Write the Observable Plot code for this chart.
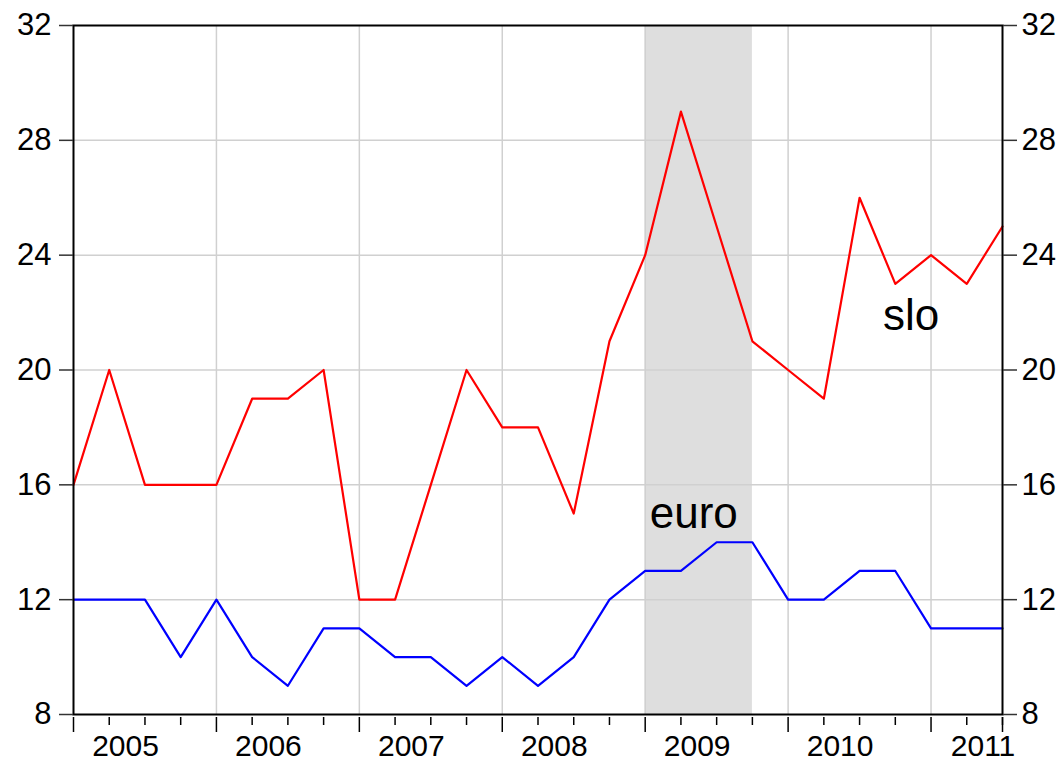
<!DOCTYPE html>
<html>
<head>
<meta charset="utf-8">
<script src="https://cdn.jsdelivr.net/npm/d3@7"></script>
<script src="https://cdn.jsdelivr.net/npm/@observablehq/plot@0.6"></script>
<style>
  html, body { margin: 0; padding: 0; background: white; }
</style>
</head>
<body>
<div id="chart"></div>
<script>
// Quarterly data, 2005Q1 .. 2011Q3
const startYear = 2005;
const slo  = [16, 20, 16, 16, 16, 19, 19, 20, 12, 12, 16, 20, 18, 18, 15, 21, 24, 29, 25, 21, 20, 19, 26, 23, 24, 23, 25];
const euro = [12, 12, 12, 10, 12, 10, 9, 11, 11, 10, 10, 9, 10, 9, 10, 12, 13, 13, 14, 14, 12, 12, 13, 13, 11, 11, 11];
const yearTicks = [2005, 2006, 2007, 2008, 2009, 2010, 2011];
const yTicks = [8, 12, 16, 20, 24, 28, 32];
const gridY = [12, 16, 20, 24, 28];
const gridX = [2006, 2007, 2008, 2009, 2010, 2011];
const recession = [{start: 2009.0, end: 2009.75}];
const labels = [
  {x: 2010.86, y: 21.38, text: "slo"},
  {x: 2009.34, y: 14.51, text: "euro"}
];

const t = (i) => startYear + i / 4;
const sloData = slo.map((v, i) => ({t: t(i), v}));
const euroData = euro.map((v, i) => ({t: t(i), v}));
const quarterTicks = slo.map((_, i) => t(i)).filter(q => !Number.isInteger(q));

const chart = Plot.plot({
  width: 1062,
  height: 762,
  marginLeft: 73,
  marginRight: 60,
  marginTop: 25,
  marginBottom: 48,
  style: {fontFamily: "Liberation Sans, Arial, sans-serif", fontSize: "31px", background: "white", color: "black", overflow: "visible"},
  x: {domain: [2005, 2011.5]},
  y: {domain: [8, 32]},
  marks: [
    Plot.rect(recession, {x1: "start", x2: "end", y1: 8, y2: 32, fill: "#dedede"}),
    Plot.ruleY(gridY, {stroke: "#d0d0d0", strokeWidth: 1.5}),
    Plot.ruleX(gridX, {stroke: "#d0d0d0", strokeWidth: 1.5}),
    Plot.line(sloData, {x: "t", y: "v", stroke: "#ff0000", strokeWidth: 2.2}),
    Plot.line(euroData, {x: "t", y: "v", stroke: "#0000ff", strokeWidth: 2.2}),
    Plot.text(labels, {x: "x", y: "y", text: "text", fontSize: 44, textAnchor: "middle", lineAnchor: "bottom", fill: "black"}),
    Plot.frame({stroke: "black", strokeWidth: 2}),
    Plot.axisY(yTicks, {anchor: "left", tickSize: 14, tickPadding: 8, tickFormat: d => String(d), stroke: "#333", strokeWidth: 1.5}),
    Plot.axisY(yTicks, {anchor: "right", tickSize: 14, tickPadding: 5, tickFormat: d => String(d), stroke: "#333", strokeWidth: 1.5}),
    Plot.axisX(quarterTicks, {anchor: "bottom", tickSize: 8, tickFormat: () => "", strokeWidth: 1.5, dy: 3}),
    Plot.axisX(yearTicks.concat([2011.5]), {anchor: "bottom", tickSize: 15, tickFormat: () => "", strokeWidth: 1.5, dy: 3}),
    Plot.axisX(yearTicks, {anchor: "bottom", tickSize: 0, tickPadding: 20, fontSize: 30, tickFormat: d => String(d), dx: 52})
  ]
});
document.getElementById("chart").appendChild(chart);
</script>
</body>
</html>
